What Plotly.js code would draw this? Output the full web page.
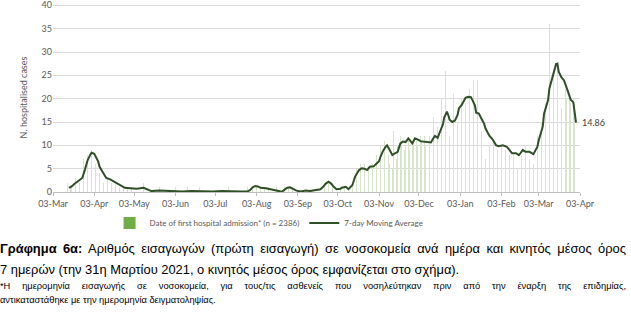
<!DOCTYPE html>
<html>
<head>
<meta charset="utf-8">
<script src="https://cdn.plot.ly/plotly-3.0.1.min.js"></script>
<style>
  html, body { margin: 0; padding: 0; background: #fff; width: 631px; height: 329px; overflow: hidden; position: relative; }
  #chart { position: absolute; left: 0; top: -10px; width: 631px; height: 245px; }
  .cap { position: absolute; left: 0; width: 626px; font-family: "Liberation Sans", Arial, sans-serif; color: #000; white-space: nowrap; }
  #t1 { top: 240px; font-size: 12.9px; line-height: 18px; text-align: justify; text-align-last: justify; }
  #t2 { top: 261px; font-size: 12.9px; line-height: 18px; }
  #f1 { top: 280px; font-size: 9.3px; line-height: 12px; text-align: justify; text-align-last: justify; }
  #f2 { top: 294px; font-size: 9.3px; line-height: 12px; }
</style>
</head>
<body>
<div id="chart"></div>
<div class="cap" id="t1"><b>Γράφημα 6α:</b> Αριθμός εισαγωγών (πρώτη εισαγωγή) σε νοσοκομεία ανά ημέρα και κινητός μέσος όρος</div>
<div class="cap" id="t2">7 ημερών (την 31η Μαρτίου 2021, ο κινητός μέσος όρος εμφανίζεται στο σχήμα).</div>
<div class="cap" id="f1">*Η ημερομηνία εισαγωγής σε νοσοκομεία, για τους/τις ασθενείς που νοσηλεύτηκαν πριν από την έναρξη της επιδημίας,</div>
<div class="cap" id="f2">αντικαταστάθηκε με την ημερομηνία δειγματοληψίας.</div>
<script>
// ---- Data ----
const firstBarDate = '2020-03-14';
// daily admissions, by month
const bars2020Mar = [2,1,1,1,5,2,3,2,3,2,4,3,7,11,6,8,10,9]; // from 14 Mar
const bars2020Apr = [9,12,7,6,6,4,4,3,4,2,5,2,3,2,4,2,1,3,2,1,2,1,2,0,1,2,0,1,1,0];
const bars2020May = [1,0,1,0,3,1,0,1,0,2,1,0,0,1,0,0,0,1,0,0,0,1,0,0,0,0,1,0,0,0,0];
const bars2020Jun = [0,0,1,0,0,0,0,0,0,0,0,1,0,0,0,0,0,0,0,0,1,0,0,0,0,0,0,0,1,0];
const bars2020Jul = [0,0,0,0,1,0,0,0,0,0,0,0,1,0,0,0,0,0,0,1,0,0,0,0,0,0,1,0,1,3,1];
const bars2020Aug = [1,3,1,2,0,1,1,0,1,1,0,1,0,1,0,0,0,1,0,0,0,0,1,1,2,1,1,1,0,1,0];
const bars2020Sep = [1,0,0,0,0,1,0,0,1,0,0,0,1,0,0,1,0,1,1,0,2,1,2,3,4,2,3,1,1,0];
const bars2020Oct = [1,0,1,0,1,1,2,1,3,0,0,1,1,2,6,4,5,6,3,6,5,4,6,5,4,5,7,5,6,5,7];
const bars2020Nov = [8,1,8,10,13,9,11,12,10,8,6,7,5,13,9,7,10,9,12,11,13,9,10,16,11,9,12,10,11,12];
const bars2020Dec = [11,10,9,12,11,10,12,10,11,9,12,15,11,16,12,7,14,13,12,20,15,18,26,17,14,12,13,15,21,14,16];
const bars2021Jan = [15,19,18,20,17,30,19,21,18,22,20,17,24,19,14,24,6,16,13,15,12,7,14,11,10,12,9,11,6,10,9];
const bars2021Feb = [15,9,10,8,11,9,10,12,8,9,4,8,9,7,5,10,13,8,9,7,10,8,9,7,10,8,6,9];
const bars2021Mar = [10,12,14,22,15,17,21,19,23,27,36,25,28,26,29,31,27,24,26,18,24,31,22,20,15,21,19,17,20,16,15];

// 7-day moving average
const maDates = ['2020-03-15','2020-03-17','2020-03-19','2020-03-21','2020-03-23','2020-03-25','2020-03-27','2020-03-29','2020-03-31',
 '2020-04-01','2020-04-03','2020-04-04','2020-04-06','2020-04-07','2020-04-10','2020-04-12','2020-04-15','2020-04-19','2020-04-22','2020-04-26','2020-04-30',
 '2020-05-05','2020-05-10','2020-05-13','2020-05-16','2020-05-22','2020-06-01','2020-06-08','2020-06-15','2020-06-22',
 '2020-07-01','2020-07-08','2020-07-15','2020-07-22','2020-07-27','2020-07-29','2020-07-31',
 '2020-08-02','2020-08-04','2020-08-06','2020-08-10','2020-08-13','2020-08-15','2020-08-19','2020-08-22','2020-08-24','2020-08-26','2020-08-28','2020-08-31',
 '2020-09-02','2020-09-05','2020-09-09','2020-09-12','2020-09-17','2020-09-20','2020-09-22','2020-09-24','2020-09-26','2020-09-28','2020-09-30',
 '2020-10-02','2020-10-05','2020-10-06','2020-10-09','2020-10-11','2020-10-14','2020-10-16','2020-10-19','2020-10-21','2020-10-23','2020-10-25','2020-10-27','2020-10-30','2020-10-31',
 '2020-11-03','2020-11-04','2020-11-06','2020-11-08','2020-11-09','2020-11-11','2020-11-13','2020-11-15','2020-11-17','2020-11-19','2020-11-21','2020-11-23','2020-11-25','2020-11-28','2020-11-30',
 '2020-12-03','2020-12-04','2020-12-06','2020-12-09','2020-12-12','2020-12-14','2020-12-15','2020-12-17','2020-12-19','2020-12-21','2020-12-22','2020-12-24','2020-12-25','2020-12-26','2020-12-28','2020-12-30',
 '2021-01-01','2021-01-02','2021-01-04','2021-01-06','2021-01-07','2021-01-09','2021-01-11','2021-01-12','2021-01-14','2021-01-15','2021-01-17','2021-01-19','2021-01-21','2021-01-22','2021-01-25','2021-01-27','2021-01-29','2021-01-30',
 '2021-02-01','2021-02-04','2021-02-07','2021-02-09','2021-02-11','2021-02-14','2021-02-16','2021-02-17','2021-02-19','2021-02-21','2021-02-24','2021-02-27',
 '2021-03-02','2021-03-03','2021-03-06','2021-03-07','2021-03-10','2021-03-11','2021-03-13','2021-03-16','2021-03-17','2021-03-18','2021-03-20','2021-03-22','2021-03-25','2021-03-27','2021-03-29','2021-03-31'];
const maValues = [0.9,1.2,1.7,2.2,2.5,3.0,4.8,6.8,8.0,
 8.4,8.2,7.6,6.5,5.4,4.0,3.0,2.7,2.0,1.5,0.9,0.8,
 0.7,0.9,0.5,0.2,0.3,0.2,0.1,0.2,0.1,
 0.1,0.2,0.1,0.1,0.1,0.4,1.0,
 1.3,1.2,0.9,0.8,0.6,0.4,0.2,0.05,0.5,0.9,1.0,0.6,
 0.3,0.1,0.3,0.2,0.4,0.6,1.1,1.8,2.2,1.8,1.1,
 0.6,0.7,0.9,1.1,0.6,1.5,3.3,4.7,5.1,5.0,4.7,5.4,5.5,5.8,
 6.6,7.5,8.8,9.7,10.0,9.0,7.9,8.3,8.6,10.4,10.8,10.7,11.5,10.4,11.5,
 11.1,10.9,10.8,10.7,10.6,11.6,12.0,11.6,13.2,14.5,16.0,17.2,16.5,15.5,15.0,15.3,
 16.5,17.9,18.6,19.5,20.2,20.4,20.3,19.8,18.6,17.0,16.8,15.7,14.6,13.6,12.0,11.4,10.4,10.0,
 9.8,10.0,9.7,9.1,8.3,8.3,7.9,8.2,9.0,8.6,8.6,8.1,
 9.7,11.1,14.0,16.8,19.7,22.2,24.4,27.4,27.5,25.8,24.6,23.9,21.5,19.8,19.2,14.86];

const tickDates = ['2020-03-03','2020-04-03','2020-05-03','2020-06-03','2020-07-03','2020-08-03','2020-09-03','2020-10-03','2020-11-03','2020-12-03','2021-01-03','2021-02-03','2021-03-03','2021-04-03'];
const tickLabels = ['03-Mar','03-Apr','03-May','03-Jun','03-Jul','03-Aug','03-Sep','03-Oct','03-Nov','03-Dec','03-Jan','03-Feb','03-Mar','03-Apr'];
const yTicks = [0, 5, 10, 15, 20, 25, 30, 35, 40];
const barName = 'Date of first hospital admission* (n = 2386)';
const maName = '7-day Moving Average';

// ---- Build daily x from consecutive dates ----
const barValues = [].concat(bars2020Mar, bars2020Apr, bars2020May, bars2020Jun, bars2020Jul, bars2020Aug,
  bars2020Sep, bars2020Oct, bars2020Nov, bars2020Dec, bars2021Jan, bars2021Feb, bars2021Mar);
const barDates = [];
const d0 = new Date(firstBarDate + 'T00:00:00Z');
for (let i = 0; i < barValues.length; i++) {
  const d = new Date(d0.getTime() + i * 86400000);
  barDates.push(d.toISOString().slice(0, 10));
}

const FONT = 'Lato, "Open Sans", sans-serif';
const traces = [
  { type: 'bar', x: barDates, y: barValues, width: 0.3 * 86400000,
    marker: { color: '#d6e5cc', line: { width: 0 } }, showlegend: false, hoverinfo: 'skip' },
  { type: 'bar', x: [null], y: [null], name: barName, marker: { color: '#70ad47' }, showlegend: true },
  { type: 'scatter', mode: 'lines', x: maDates, y: maValues, name: maName,
    line: { color: '#2f4f26', width: 2 } }
];

const H = 245;
const layout = {
  width: 631, height: H,
  margin: { l: 53, r: 51, t: 13, b: 43 },
  paper_bgcolor: '#fff', plot_bgcolor: '#fff',
  font: { family: FONT, size: 9, color: '#595959' },
  bargap: 0,
  showlegend: true,
  legend: { orientation: 'h', x: 0.41, xanchor: 'center', yref: 'container', y: 1 - 233 / H, yanchor: 'middle',
            font: { family: FONT, size: 8, color: '#595959' }, traceorder: 'normal', itemwidth: 30 },
  xaxis: {
    type: 'date', range: ['2020-03-03', '2021-04-03'],
    tickvals: tickDates, ticktext: tickLabels, ticks: 'outside', ticklen: 3, tickcolor: '#bfbfbf',
    showline: true, linecolor: '#bfbfbf', linewidth: 1, showgrid: false, zeroline: false,
    tickfont: { family: FONT, size: 9, color: '#595959' }, fixedrange: true
  },
  yaxis: {
    range: [0, 40.5], tickvals: yTicks, showgrid: true, gridcolor: '#d9d9d9', gridwidth: 1,
    zeroline: false, showline: false, ticks: '', ticklabeloverflow: 'allow',
    tickfont: { family: FONT, size: 9, color: '#595959' },
    title: { text: 'N. hospitalised cases', font: { family: FONT, size: 9, color: '#595959' }, standoff: 12 }
  },
  annotations: [{
    x: maDates[maDates.length - 1], y: maValues[maValues.length - 1], xref: 'x', yref: 'y',
    text: String(maValues[maValues.length - 1]), showarrow: false, xanchor: 'left', xshift: 4,
    font: { family: FONT, size: 9, color: '#404040' }
  }]
};

Plotly.newPlot('chart', traces, layout, { displayModeBar: false, staticPlot: true });
</script>
</body>
</html>
